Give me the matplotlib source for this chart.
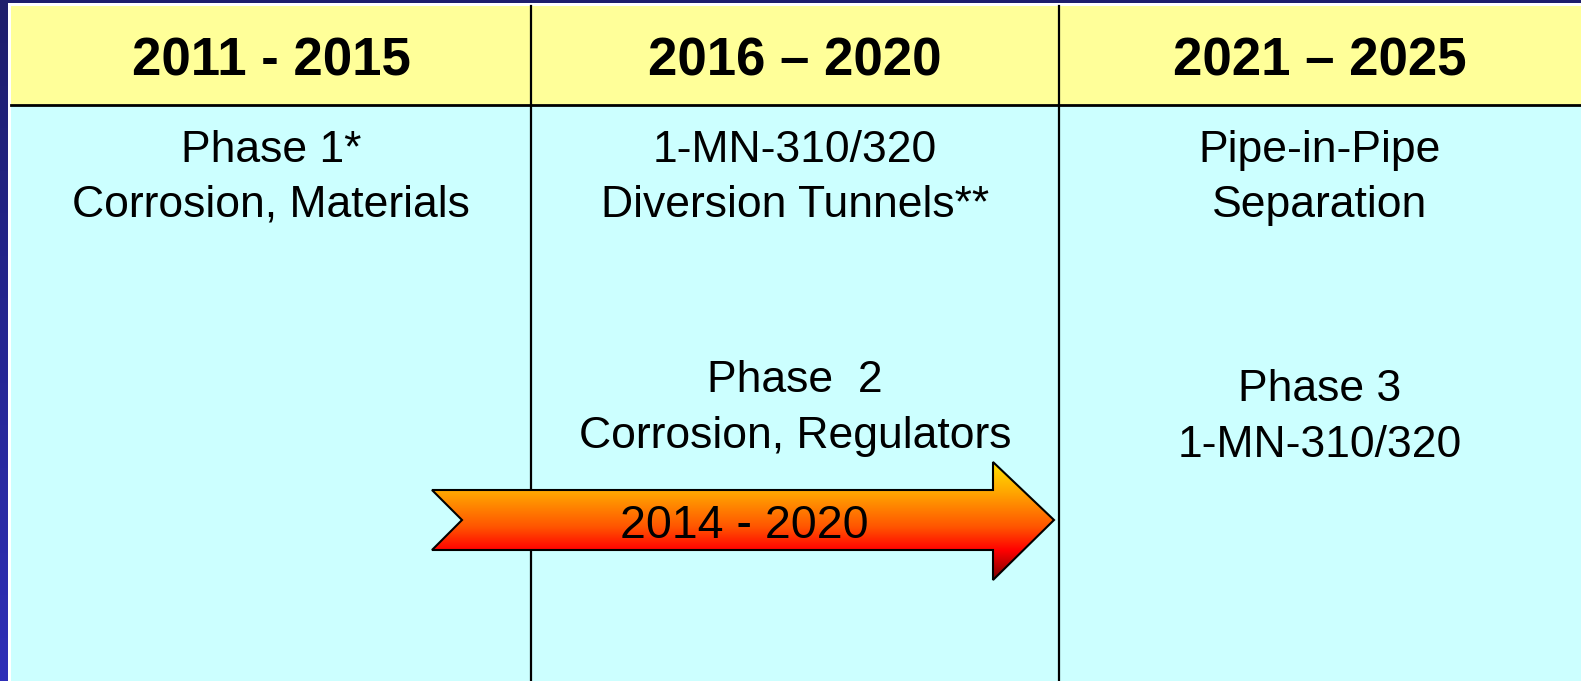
import matplotlib
matplotlib.use('Agg')
import matplotlib.pyplot as plt
import numpy as np
from matplotlib.patches import Polygon, Rectangle
from matplotlib.colors import LinearSegmentedColormap

# table content
periods = ["2011 - 2015", "2016 \u2013 2020", "2021 \u2013 2025"]
upper_items = [
    ["Phase 1*", "Corrosion, Materials"],
    ["1-MN-310/320", "Diversion Tunnels**"],
    ["Pipe-in-Pipe", "Separation"],
]
lower_items = [
    [],
    ["Phase  2", "Corrosion, Regulators"],
    ["Phase 3", "1-MN-310/320"],
]
arrow_label = "2014 - 2020"

# layout in pixels (figure is 1581 x 681)
W, H = 1581, 681
col_edges = [11, 531, 1059, W]
header_top, header_bottom = 6, 104.5
lower_baseline = [0, 392, 401]
line_gap = 55

plt.rcParams['font.family'] = ['Liberation Sans', 'DejaVu Sans']

fig = plt.figure(figsize=(W / 100, H / 100), dpi=100)
ax = fig.add_axes([0, 0, 1, 1])
ax.set_xlim(0, W)
ax.set_ylim(H, 0)
ax.axis('off')

# dark blue slide background
blue = LinearSegmentedColormap.from_list('bg', ['#1e1e6c', '#2e2eb8'])
ax.imshow(np.linspace(0, 1, 256).reshape(-1, 1), cmap=blue, aspect='auto',
          extent=[0, W, H, 0], zorder=0)
ax.add_patch(Rectangle((8, 3), W, H, facecolor='white', edgecolor='none', zorder=1))

# header and body cells
ax.add_patch(Rectangle((col_edges[0], header_top), W, header_bottom - header_top,
                       facecolor='#ffff99', edgecolor='none', zorder=2))
ax.add_patch(Rectangle((col_edges[0], header_bottom), W, H,
                       facecolor='#ccffff', edgecolor='none', zorder=2))
ax.plot([col_edges[0], W], [header_bottom, header_bottom], color='black', lw=2, zorder=3)
for x in col_edges[1:-1]:
    ax.plot([x, x], [header_top, H], color='black', lw=1.6, zorder=3)

for i, period in enumerate(periods):
    cx = (col_edges[i] + col_edges[i + 1]) / 2
    ax.text(cx, 76, period, ha='center', va='baseline', fontsize=38,
            fontweight='bold', zorder=5)
    for j, line in enumerate(upper_items[i]):
        ax.text(cx, 162 + j * line_gap, line, ha='center', va='baseline',
                fontsize=32, zorder=5)
    for j, line in enumerate(lower_items[i]):
        ax.text(cx, lower_baseline[i] + j * 56, line, ha='center', va='baseline',
                fontsize=32, zorder=5)

# gradient arrow spanning phase 2
arrow_pts = [(432, 490), (462, 520), (432, 550), (993, 550), (993, 580),
             (1054, 520), (993, 462), (993, 490)]
arrow = Polygon(arrow_pts, closed=True, facecolor='none', edgecolor='black',
                lw=1.5, zorder=7)
ax.add_patch(arrow)
fire = LinearSegmentedColormap.from_list(
    'fire', [(0.0, '#ffe000'), (0.24, '#ffaa00'), (0.55, '#ff5500'),
             (0.75, '#ff0000'), (1.0, '#7a0000')])
grad = ax.imshow(np.linspace(0, 1, 256).reshape(-1, 1), cmap=fire, aspect='auto',
                 extent=[432, 1054, 580, 462], zorder=6)
grad.set_clip_path(arrow)
ax.text(744, 538, arrow_label, ha='center', va='baseline', fontsize=33.5, zorder=8)

ax.set_xlim(0, W)
ax.set_ylim(H, 0)
fig.savefig('out.png', dpi=100)
